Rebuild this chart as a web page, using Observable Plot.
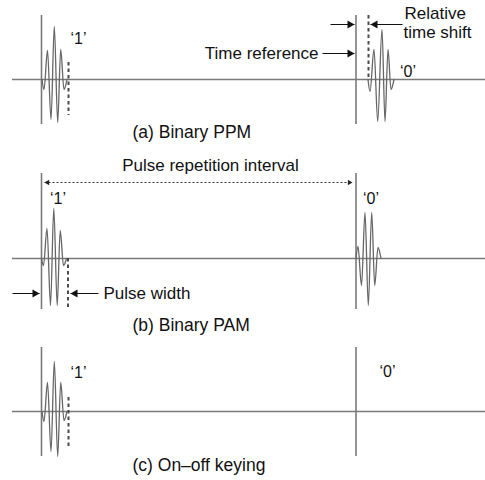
<!DOCTYPE html>
<html><head><meta charset="utf-8">
<script src="https://cdn.jsdelivr.net/npm/d3@7"></script>
<script src="https://cdn.jsdelivr.net/npm/@observablehq/plot@0.6"></script>
<style>body{margin:0;background:#fff} svg{display:block}</style>
</head><body><div id="chart"></div>
<script>
// ---------------- data ----------------
const panelTitles = ["(a) Binary PPM", "(b) Binary PAM", "(c) On–off keying"];
const bitLabels = ["‘1’", "‘0’"];
const annotationTexts = ["Time reference", "Relative", "time shift", "Pulse repetition interval", "Pulse width"];
// frame start times (time units) for bit '1' and bit '0'
const frameStarts = [41, 355.5];
const pulseWidth = 27;
const ppmShift = 12.5;
// pulse waveforms: time offset from pulse start, amplitude
const pulseOffsets = [0, 2, 5.5, 9, 12.3, 15.7, 18.7, 22, 25];
const pulseOffsetsPPM0 = [0, 2, 6, 9.7, 14, 17, 20, 23, 26];
const ampPPM1 = [0, -10, 29, -40, 53, -43, 30, -10, 0];
const ampPPM0 = [0, -12, 30, -42, 50, -42, 30, -10, 0];
const ampPAM1 = [0, -7, 30, -47, 50, -47, 28, -7, 0];
const ampPAM0 = [0, 12, -27, 46, -47, 46, -27, 11, 0];
const ampOOK1 = [0, -10, 29, -40, 50, -45, 29, -9, 0];

// ---------------- layout ----------------
const W = 485, H = 480;
const baseY = [79, 258, 411];
const frameTop = [15, 173, 347], frameBottom = [124, 309, 456];
const FONT = "'Liberation Sans', Arial, Helvetica, sans-serif";

const wave = [];
function addPulse(id, t0, offs, amps, by) {
  offs.forEach((o, i) => wave.push({id, t: t0 + o, y: by - amps[i]}));
}
addPulse("a1", frameStarts[0] + 0.5, pulseOffsets, ampPPM1, baseY[0]);
addPulse("a0", frameStarts[1] + ppmShift - 0.5, pulseOffsetsPPM0, ampPPM0, baseY[0]);
addPulse("b1", frameStarts[0], pulseOffsets, ampPAM1, baseY[1]);
addPulse("b0", frameStarts[1], pulseOffsets, ampPAM0, baseY[1]);
addPulse("c1", frameStarts[0] + 0.5, pulseOffsets, ampOOK1, baseY[2]);

const frames = [];
[0, 1, 2].forEach(p => frameStarts.forEach(t => frames.push({x: t, y1: frameTop[p], y2: frameBottom[p]})));

const tEnd = frameStarts[0] + pulseWidth;
const dashed = [
  {x: tEnd, y1: 62, y2: 115},
  {x: frameStarts[1] + ppmShift, y1: frameTop[0], y2: baseY[0]},
  {x: tEnd - 0.5, y1: baseY[1], y2: 310},
  {x: tEnd, y1: 397, y2: 447}
];

// arrows: line + filled head at tip
const arrows = [
  {x1: 330, x2: frameStarts[1] - 1.5, y: 24},
  {x1: 322, x2: frameStarts[1] - 1.5, y: 53},
  {x1: 402, x2: frameStarts[1] + ppmShift + 2, y: 24},
  {x1: 12, x2: frameStarts[0] - 2, y: 293},
  {x1: 98, x2: tEnd + 2, y: 293}
];
const TIP = 4.67;
const heads = arrows.map(a => {
  const dir = Math.sign(a.x2 - a.x1);
  return {x: a.x2 - dir * TIP, y: a.y, rot: dir > 0 ? 90 : -90};
});
const priY = 182;
const pri = {x1: frameStarts[0] + 3, x2: frameStarts[1] - 3.5};
const priHeads = [
  {x: pri.x1 + 3.1, y: priY, rot: -90},
  {x: pri.x2 - 3.1, y: priY, rot: 90}
];

const captions = panelTitles.map((t, i) => ({text: t, x: 132, y: [132, 325, 465][i]}));
const bitText = [
  {text: bitLabels[0], x: 78, y: 38},
  {text: bitLabels[1], x: 407.5, y: 71.5},
  {text: bitLabels[0], x: 57.5, y: 198},
  {text: bitLabels[1], x: 370.5, y: 198.5},
  {text: bitLabels[0], x: 78, y: 372},
  {text: bitLabels[1], x: 387, y: 371}
];
const leftTexts = [
  {text: annotationTexts[1], x: 404, y: 13},
  {text: annotationTexts[2], x: 403, y: 32},
  {text: annotationTexts[4], x: 103, y: 293}
];
const endTexts = [{text: annotationTexts[0], x: 318, y: 53}];
const midTexts = [{text: annotationTexts[3], x: 210, y: 165}];

const chart = Plot.plot({
  width: W, height: H,
  marginTop: 0, marginRight: 0, marginBottom: 0, marginLeft: 0,
  x: {domain: [0, W], axis: null},
  y: {domain: [0, H], reverse: true, axis: null},
  style: {fontFamily: FONT, background: "#fff"},
  marks: [
    Plot.ruleY(baseY, {x1: 12, x2: W, stroke: "#7a7a7a", strokeWidth: 1.6}),
    Plot.ruleX(frames, {x: "x", y1: "y1", y2: "y2", stroke: "#7a7a7a", strokeWidth: 1.6}),
    Plot.ruleX(dashed, {x: "x", y1: "y1", y2: "y2", stroke: "#4a4a4a", strokeWidth: 2, strokeDasharray: "3.5,3"}),
    Plot.line(wave, {x: "t", y: "y", z: "id", curve: "monotone-x", stroke: "#666", strokeWidth: 1.3}),
    Plot.link(arrows, {x1: "x1", x2: "x2", y1: "y", y2: "y", stroke: "#111", strokeWidth: 1}),
    Plot.dot(heads, {x: "x", y: "y", rotate: "rot", symbol: "triangle", r: 3, fill: "#111", stroke: null}),
    Plot.link([pri], {x1: "x1", x2: "x2", y1: priY, y2: priY, stroke: "#333", strokeWidth: 1, strokeDasharray: "2,2"}),
    Plot.dot(priHeads, {x: "x", y: "y", rotate: "rot", symbol: "triangle", r: 2, fill: "#222", stroke: null}),
    Plot.text(captions, {x: "x", y: "y", text: "text", textAnchor: "start", fontSize: 17.5, fill: "#111"}),
    Plot.text(bitText, {x: "x", y: "y", text: "text", textAnchor: "middle", fontSize: 16, fill: "#111"}),
    Plot.text(leftTexts, {x: "x", y: "y", text: "text", textAnchor: "start", fontSize: 17, fill: "#111"}),
    Plot.text(endTexts, {x: "x", y: "y", text: "text", textAnchor: "end", fontSize: 17, fill: "#111"}),
    Plot.text(midTexts, {x: "x", y: "y", text: "text", textAnchor: "middle", fontSize: 17, fill: "#111"})
  ]
});
document.getElementById("chart").appendChild(chart);
</script>
</body></html>
